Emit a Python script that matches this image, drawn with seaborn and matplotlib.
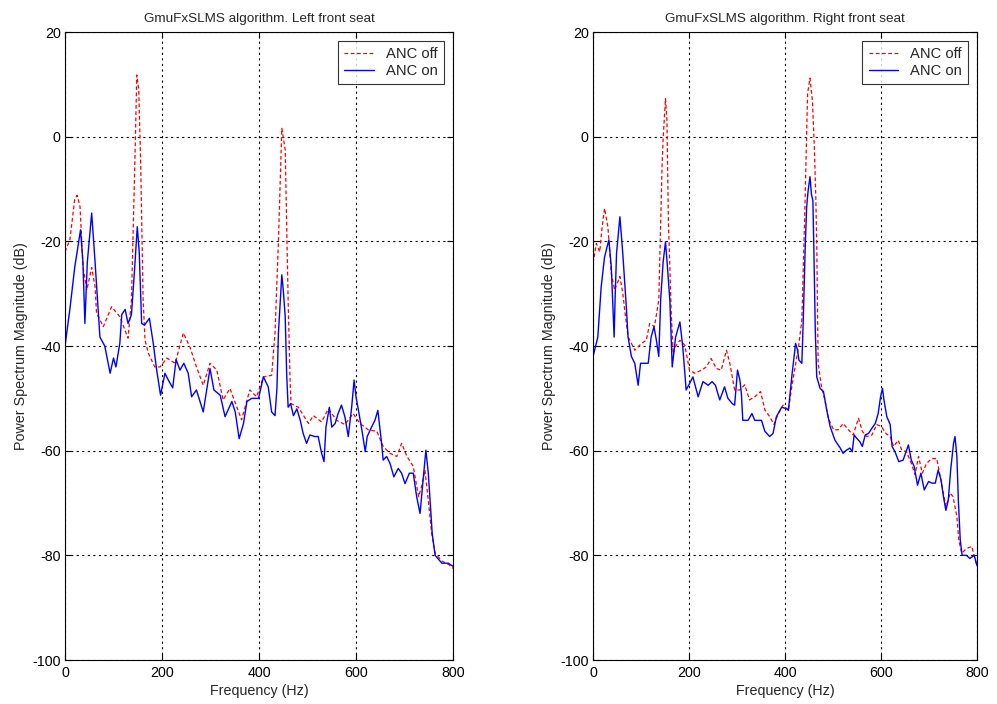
import matplotlib
matplotlib.use("Agg")
import matplotlib.pyplot as plt
import seaborn as sns
import pandas as pd

sns.set_style("white")
plt.rcParams['font.family'] = ['Liberation Sans', 'DejaVu Sans']
plt.rcParams['axes.unicode_minus'] = False

# ---------------- Left front seat ----------------
left_off_f = [0, 10, 20, 25, 31, 37, 45, 55, 62, 65, 79, 96, 113, 130, 137, 144, 148, 152, 156, 161, 165, 172,
              185, 196, 210, 227, 244, 258, 271, 285, 299, 313, 326, 340, 354, 364, 381, 395, 409, 426, 433,
              440, 447, 454, 456, 460, 464, 466, 481, 502, 512, 529, 543, 560, 577, 594, 608, 625, 643, 656,
              670, 684, 694, 705, 718, 729, 735, 742, 749, 756, 763, 777, 792, 800]
left_off_v = [-22, -19.7, -12, -11.2, -13.4, -24.8, -29.3, -25, -28.7, -33.7, -36.3, -32.5, -34.4, -38.5, -31.2,
              -5, 11.8, 9, -5, -31, -38.9, -41.4, -44, -44, -42.3, -43.3, -37.5, -40.3, -44, -47.5, -43.3,
              -44.6, -50.3, -48.1, -51.6, -54.1, -48.4, -49.7, -45.9, -45.6, -37.5, -20, 1.6, -2.5, -12.1,
              -31.2, -46.5, -51, -51.7, -54.8, -53.3, -54.5, -52, -54.2, -55, -52.9, -54.8, -56, -56.3,
              -59.2, -60.5, -61.1, -58.6, -61.1, -63, -68.8, -66.9, -63.7, -69.5, -75.8, -79.6, -81.1,
              -81.8, -82.5]

left_on_f = [0, 10, 20, 32, 37, 41, 46, 55, 62, 72, 82, 93, 100, 105, 113, 117, 124, 130, 137, 143, 149, 153,
             158, 164, 174, 182, 189, 197, 206, 213, 222, 229, 237, 245, 254, 261, 271, 285, 299, 307, 320,
             330, 344, 351, 359, 368, 375, 385, 395, 399, 409, 419, 426, 433, 437, 440, 447, 450, 454, 457,
             460, 465, 471, 478, 485, 491, 498, 505, 515, 522, 529, 534, 538, 545, 550, 557, 563, 570, 577,
             584, 591, 596, 600, 605, 612, 619, 623, 632, 639, 645, 652, 656, 663, 670, 678, 687, 694, 701,
             710, 718, 725, 732, 737, 744, 749, 754, 757, 763, 777, 790, 800]
left_on_v = [-40, -33, -25, -17.8, -24, -35.7, -24, -14.6, -24, -38.3, -40, -45.2, -42.3, -44, -39.5, -34, -33,
             -35.7, -34, -26, -17.2, -22, -35.7, -36, -34.7, -39.5, -44.6, -49.4, -45.2, -46.5, -48, -42.6,
             -44.6, -43.3, -45.2, -49.7, -48.4, -52.6, -44.3, -48.4, -49.4, -53.5, -50.6, -52.6, -57.7, -54.8,
             -50.6, -50, -50, -50, -45.9, -47.8, -52.6, -53.3, -48, -37.5, -26.4, -29.3, -34.4, -45.3, -51.7,
             -51, -53.3, -52, -54.2, -56.7, -58.6, -57, -57.3, -57.3, -60.5, -62.1, -55.5, -51.7, -55.5,
             -54.8, -52.9, -51.3, -53.5, -57.3, -51.7, -46.5, -49.7, -52.3, -56, -60.2, -57.3, -55.5, -54.2,
             -52.3, -58, -61.8, -61.1, -62.4, -65, -63.4, -64.3, -66.3, -64.3, -64.3, -68.8, -72, -66.9,
             -59.9, -64.3, -71.4, -75.8, -80, -81.5, -81.5, -82.1]

# ---------------- Right front seat ----------------
right_off_f = [0, 7, 14, 19, 24, 31, 38, 45, 56, 62, 66, 73, 87, 101, 111, 118, 128, 137, 144, 146, 151, 154,
               157, 163, 167, 171, 181, 191, 201, 212, 226, 236, 246, 257, 267, 278, 285, 295, 306, 316, 326,
               337, 349, 358, 368, 377, 386, 396, 407, 414, 421, 428, 435, 441, 447, 452, 457, 461, 464, 466,
               469, 476, 483, 490, 501, 511, 521, 532, 542, 553, 561, 570, 581, 591, 601, 610, 619, 626, 636,
               643, 653, 663, 671, 678, 686, 695, 706, 716, 726, 735, 744, 750, 758, 762, 768, 778, 789, 796, 800]
right_off_v = [-24.2, -20.4, -22, -17.2, -13.7, -17.2, -26.1, -29.3, -26.7, -29.9, -33.1, -38.2, -40.8, -39.5,
               -38.9, -35.7, -36.3, -31.2, -5, -0.5, 7.3, 3.2, -16, -33.7, -41.5, -40.2, -38.9, -39.8, -44.6,
               -45.2, -44.6, -44, -42.4, -44.3, -44.6, -40.8, -43.3, -48.4, -48.4, -47.4, -50.3, -49.7, -48.7,
               -52.2, -53.5, -55, -52.9, -51.3, -52.3, -47.8, -44, -40.2, -35.1, -15, 8.3, 11.2, 6.9, -1.9,
               -11.4, -20.3, -43.3, -47.8, -50.3, -53.8, -56, -56, -54.8, -56, -57, -53.8, -56.3, -57.3, -57,
               -55, -55.4, -56.7, -57.3, -59.2, -58, -59.9, -60.2, -62.4, -64.6, -61.1, -64.3, -62.4, -61.5,
               -61.5, -66.2, -70.7, -68.1, -68.8, -72.6, -77.1, -79.6, -78.7, -78.3, -80.8, -82]

right_on_f = [0, 10, 17, 24, 33, 38, 44, 46, 49, 56, 62, 69, 73, 80, 87, 94, 99, 108, 115, 121, 127, 132, 137,
              141, 146, 151, 154, 160, 165, 172, 181, 187, 194, 201, 208, 219, 229, 240, 248, 255, 264, 274,
              281, 290, 295, 301, 306, 309, 312, 323, 331, 337, 351, 358, 368, 375, 382, 393, 404, 407, 414,
              418, 422, 426, 429, 435, 438, 442, 445, 448, 452, 455, 458, 460, 463, 466, 473, 480, 487, 494,
              504, 515, 521, 528, 535, 540, 544, 549, 556, 561, 567, 574, 581, 588, 594, 599, 603, 606, 612,
              619, 623, 629, 637, 646, 657, 663, 669, 676, 683, 690, 699, 706, 713, 719, 725, 730, 735, 740,
              745, 751, 754, 758, 761, 765, 769, 778, 785, 794, 800]
right_on_v = [-42, -38.3, -28.7, -23, -19.7, -24.8, -38.3, -31, -22.3, -15.3, -22.3, -32, -38.3, -42, -43.3,
              -47.5, -43.3, -43.3, -43.3, -38.3, -36.3, -38.9, -42, -31, -24, -20.1, -23.6, -31.2, -44, -38.3,
              -35.4, -40.2, -48.4, -47.2, -45.9, -49.7, -46.8, -47.5, -46.8, -47.5, -50.3, -47.8, -50, -51,
              -51.3, -44.6, -46.5, -49, -54.2, -54.2, -52.9, -54.2, -54.2, -56.3, -57.3, -56.7, -53.5, -51.7,
              -52, -52.3, -45.9, -42.7, -39.5, -40.8, -42.7, -43.3, -35, -21.2, -13.5, -10.4, -7.65, -11,
              -12.2, -21.2, -37, -45.9, -48.1, -48.7, -52.3, -55.4, -58, -59.5, -60.5, -59.9, -59.5, -60.2,
              -57, -57.6, -58.3, -59.2, -57, -56.7, -55.7, -54.8, -52.9, -49.7, -48.1, -50.3, -53.5, -55,
              -59.2, -60.2, -62.1, -61.8, -58.9, -61.8, -63, -66.6, -64.3, -67.5, -65.9, -66.2, -66.2, -63.7,
              -65.6, -68.8, -71.4, -69.5, -63.7, -58.6, -57.3, -61.1, -69.5, -77.1, -80, -80, -80.6, -80, -82]

titles = ["GmuFxSLMS algorithm. Left front seat", "GmuFxSLMS algorithm. Right front seat"]
series_names = ["ANC off", "ANC on"]
x_ticks = [0, 200, 400, 600, 800]
y_ticks = [20, 0, -20, -40, -60, -80, -100]

fig = plt.figure(figsize=(9.97, 7.04), dpi=100)
ax_l = fig.add_axes([0.0652, 0.0625, 0.3892, 0.892])
ax_r = fig.add_axes([0.5948, 0.0625, 0.3852, 0.892])

panels = [
    (ax_l, left_off_f, left_off_v, left_on_f, left_on_v, titles[0]),
    (ax_r, right_off_f, right_off_v, right_on_f, right_on_v, titles[1]),
]

for ax, of, ov, nf, nv, title in panels:
    df_off = pd.DataFrame({"Frequency": of, "dB": ov})
    df_on = pd.DataFrame({"Frequency": nf, "dB": nv})
    sns.lineplot(data=df_off, x="Frequency", y="dB", ax=ax, color="#ff0000",
                 linestyle=(0, (3, 2)), linewidth=0.9, label=series_names[0])
    sns.lineplot(data=df_on, x="Frequency", y="dB", ax=ax, color="#0000ff",
                 linewidth=1.0, label=series_names[1])
    ax.set_xlim(0, 800)
    ax.set_ylim(-100, 20)
    ax.set_xticks(x_ticks)
    ax.set_yticks(y_ticks)
    ax.set_xticklabels([str(t) for t in x_ticks])
    ax.set_yticklabels([str(t) for t in y_ticks])
    ax.grid(True, color="black", linestyle=(0, (2, 3)), linewidth=0.8)
    ax.set_axisbelow(True)
    for s in ax.spines.values():
        s.set_visible(True)
        s.set_color("black")
        s.set_linewidth(0.8)
    ax.tick_params(direction="in", length=4, width=0.8, labelsize=10.3, colors="black",
                   top=True, right=True, bottom=True, left=True, pad=3)
    ax.tick_params(axis="x", pad=4)
    ax.set_xlabel("Frequency (Hz)", fontsize=10.3, labelpad=3)
    ax.set_ylabel("Power Spectrum Magnitude (dB)", fontsize=10.3, labelpad=3)
    ax.set_title(title, fontsize=9.7, pad=7)
    leg = ax.legend(loc="upper right", fontsize=10.6, frameon=True, fancybox=False,
                    edgecolor="black", handlelength=2.0, handletextpad=0.8, borderpad=0.45,
                    labelspacing=0.15, borderaxespad=0.6)
    leg.get_frame().set_linewidth(0.8)

fig.savefig("out.png", dpi=100)
